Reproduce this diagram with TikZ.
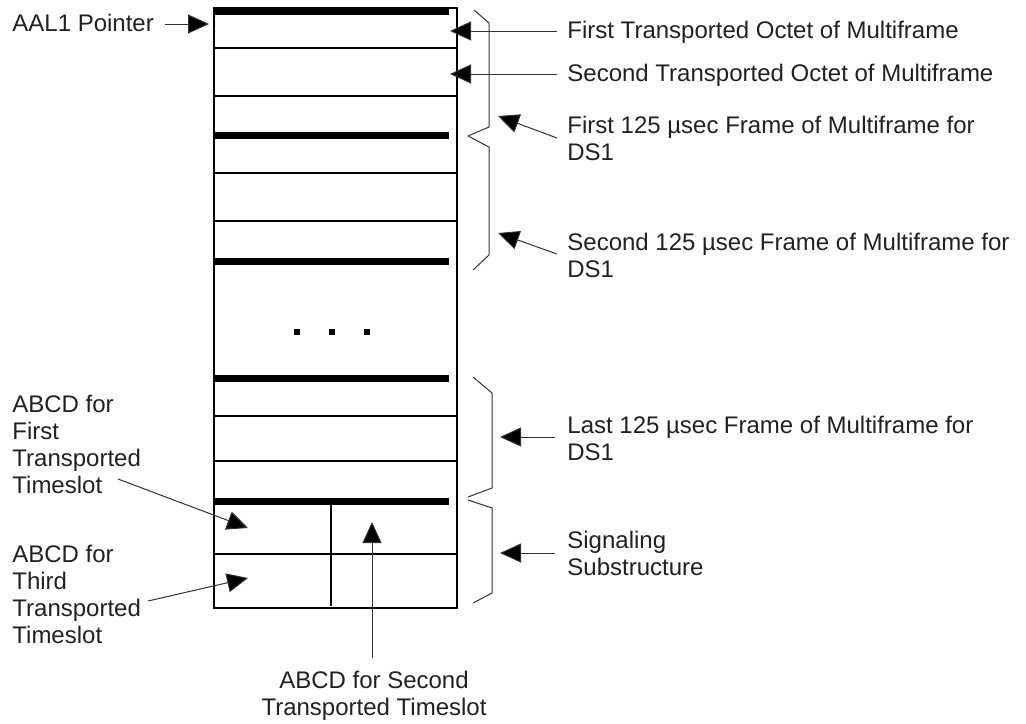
\documentclass[tikz,border=0pt]{standalone}
\usepackage{fontspec}
\setmainfont{Liberation Sans}
\usetikzlibrary{arrows.meta}
\begin{document}
\begin{tikzpicture}[x=0.5pt,y=-0.5pt,
  lbl/.style={font=\fontsize{12pt}{13.5pt}\selectfont, text=black!87, inner sep=0pt, align=left, anchor=base west},
  clbl/.style={lbl, align=center, anchor=base},
  heavyrule/.style={line width=3.5pt},
  thinrule/.style={line width=1pt},
  boxline/.style={line width=1.2pt, line join=miter},
  conn/.style={line width=0.5pt, draw=black!80, -{Triangle[length=10.5pt,width=9.5pt,fill=black]}},
  bracket/.style={line width=0.5pt, draw=black!80, line join=miter}
]
\useasboundingbox (0,0) rectangle (1026,723);

% frame
\draw[boxline] (214,8) rectangle (457,608);
\foreach \y in {11,135,261,378,501} \draw[heavyrule] (214,\y) -- (449,\y);
\foreach \y in {48,96,173,221,416,461,554} \draw[thinrule] (214,\y) -- (456,\y);
\draw[thinrule] (331,501) -- (331,606);
\foreach \x in {297,332,367} \fill (\x-3,329) rectangle (\x+3,335);

% brackets
\draw[bracket] (474,10) -- (489,23) -- (489,127) -- (468,136);
\draw[bracket] (468,136) -- (489,147) -- (489,255) -- (473,270);
\draw[bracket] (473,377) -- (492,393) -- (492,488) -- (468,497);
\draw[bracket] (468,500) -- (492,508) -- (492,593) -- (473,603);

% labels (multi-line nodes: base anchor = baseline of last line)
\node[lbl] (aal) at (12,31) {AAL1 Pointer};
\node[lbl] (oct1) at (567,38) {First Transported Octet of Multiframe};
\node[lbl] (oct2) at (567,81) {Second Transported Octet of Multiframe};
\node[lbl] (f125) at (567,160) {First 125 µsec Frame of Multiframe for\\DS1};
\node[lbl] (s125) at (567,277) {Second 125 µsec Frame of Multiframe for\\DS1};
\node[lbl] (l125) at (567,460) {Last 125 µsec Frame of Multiframe for\\DS1};
\node[lbl] (sig) at (567,575) {Signaling\\Substructure};
\node[lbl] (abcd1) at (12,493) {ABCD for\\First\\Transported\\Timeslot};
\node[lbl] (abcd3) at (12,643) {ABCD for\\Third\\Transported\\Timeslot};
\node[clbl] (abcd2) at (374,715) {ABCD for Second\\Transported Timeslot};

% connector end points
\coordinate (aalS) at (165,24);   \coordinate (aalT) at (209,24);
\coordinate (o1S) at (557,31);    \coordinate (o1T) at (450,31);
\coordinate (o2S) at (557,74);    \coordinate (o2T) at (450,74);
\coordinate (f1S) at (557,138);   \coordinate (f1T) at (498,116);
\coordinate (s1S) at (557,254);   \coordinate (s1T) at (498,233);
\coordinate (l1S) at (555,437);   \coordinate (l1T) at (500,437);
\coordinate (sgS) at (555,553);   \coordinate (sgT) at (500,553);
\coordinate (a1S) at (118,479);   \coordinate (a1T) at (248,528);
\coordinate (a3S) at (148,601);   \coordinate (a3T) at (248,578);
\coordinate (a2S) at (372,658);   \coordinate (a2T) at (372,522);

\draw[conn] (aalS) -- (aalT);
\draw[conn] (o1S) -- (o1T);
\draw[conn] (o2S) -- (o2T);
\draw[conn] (f1S) -- (f1T);
\draw[conn] (s1S) -- (s1T);
\draw[conn] (l1S) -- (l1T);
\draw[conn] (sgS) -- (sgT);
\draw[conn] (a1S) -- (a1T);
\draw[conn] (a3S) -- (a3T);
\draw[conn] (a2S) -- (a2T);
\end{tikzpicture}
\end{document}
